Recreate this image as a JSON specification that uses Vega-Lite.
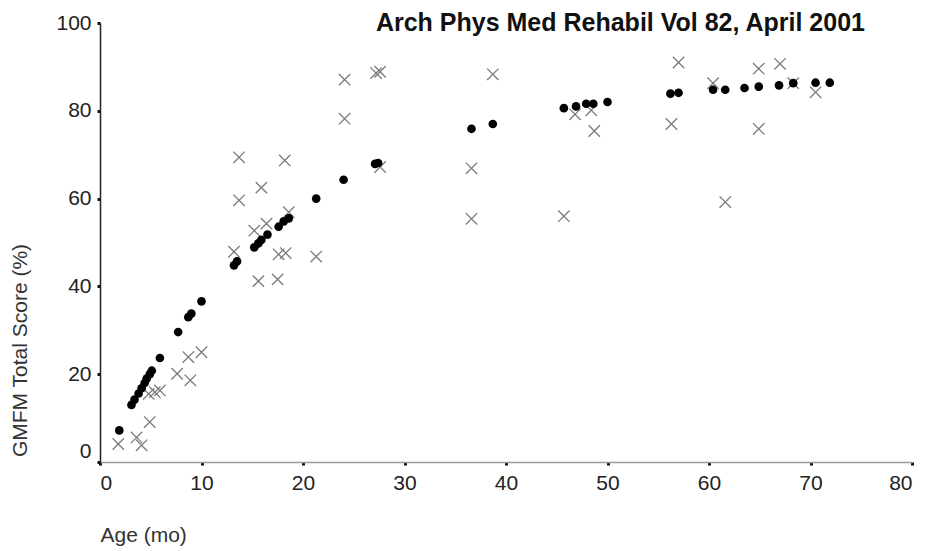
{
  "$schema": "https://vega.github.io/schema/vega-lite/v6.json",
  "width": 812,
  "height": 439,
  "autosize": {"type": "none"},
  "padding": {"left": 100, "top": 23, "right": 14, "bottom": 89},
  "background": "white",
  "config": {
    "view": {"stroke": null},
    "font": "Liberation Sans"
  },
  "title": {
    "text": "Arch Phys Med Rehabil Vol 82, April 2001",
    "anchor": "end",
    "frame": "group",
    "orient": "top",
    "baseline": "middle",
    "offset": 0,
    "dx": -47,
    "dy": 36,
    "font": "Liberation Sans",
    "fontSize": 25,
    "fontWeight": "bold",
    "color": "#111111"
  },
  "data": {
    "values": [
      {"age": 1.9, "score": 7.2, "group": "curve"},
      {"age": 3.1, "score": 13.0, "group": "curve"},
      {"age": 3.4, "score": 14.2, "group": "curve"},
      {"age": 3.8, "score": 15.6, "group": "curve"},
      {"age": 4.1, "score": 16.8, "group": "curve"},
      {"age": 4.4, "score": 18.0, "group": "curve"},
      {"age": 4.6, "score": 19.0, "group": "curve"},
      {"age": 4.9, "score": 20.0, "group": "curve"},
      {"age": 5.1, "score": 20.8, "group": "curve"},
      {"age": 5.9, "score": 23.7, "group": "curve"},
      {"age": 7.7, "score": 29.6, "group": "curve"},
      {"age": 8.7, "score": 33.0, "group": "curve"},
      {"age": 9.0, "score": 33.8, "group": "curve"},
      {"age": 10.0, "score": 36.6, "group": "curve"},
      {"age": 13.2, "score": 44.8, "group": "curve"},
      {"age": 13.5, "score": 45.7, "group": "curve"},
      {"age": 15.2, "score": 48.9, "group": "curve"},
      {"age": 15.6, "score": 49.8, "group": "curve"},
      {"age": 15.9, "score": 50.6, "group": "curve"},
      {"age": 16.5, "score": 51.8, "group": "curve"},
      {"age": 17.6, "score": 53.6, "group": "curve"},
      {"age": 18.1, "score": 54.8, "group": "curve"},
      {"age": 18.6, "score": 55.5, "group": "curve"},
      {"age": 21.3, "score": 60.0, "group": "curve"},
      {"age": 24.0, "score": 64.3, "group": "curve"},
      {"age": 27.1, "score": 67.9, "group": "curve"},
      {"age": 27.4, "score": 68.1, "group": "curve"},
      {"age": 36.6, "score": 75.9, "group": "curve"},
      {"age": 38.7, "score": 77.0, "group": "curve"},
      {"age": 45.7, "score": 80.6, "group": "curve"},
      {"age": 46.9, "score": 81.0, "group": "curve"},
      {"age": 47.9, "score": 81.6, "group": "curve"},
      {"age": 48.6, "score": 81.6, "group": "curve"},
      {"age": 50.0, "score": 82.0, "group": "curve"},
      {"age": 56.2, "score": 83.9, "group": "curve"},
      {"age": 57.0, "score": 84.1, "group": "curve"},
      {"age": 60.4, "score": 84.8, "group": "curve"},
      {"age": 61.6, "score": 84.8, "group": "curve"},
      {"age": 63.5, "score": 85.2, "group": "curve"},
      {"age": 64.9, "score": 85.5, "group": "curve"},
      {"age": 66.9, "score": 85.8, "group": "curve"},
      {"age": 68.3, "score": 86.3, "group": "curve"},
      {"age": 70.5, "score": 86.4, "group": "curve"},
      {"age": 71.9, "score": 86.4, "group": "curve"},

      {"age": 1.8, "score": 4.1, "group": "child"},
      {"age": 3.6, "score": 5.6, "group": "child"},
      {"age": 4.1, "score": 3.8, "group": "child"},
      {"age": 4.9, "score": 9.1, "group": "child"},
      {"age": 4.8, "score": 15.5, "group": "child"},
      {"age": 5.4, "score": 15.9, "group": "child"},
      {"age": 5.9, "score": 16.3, "group": "child"},
      {"age": 7.6, "score": 20.1, "group": "child"},
      {"age": 8.9, "score": 18.6, "group": "child"},
      {"age": 8.7, "score": 23.9, "group": "child"},
      {"age": 10.0, "score": 25.0, "group": "child"},
      {"age": 13.7, "score": 69.4, "group": "child"},
      {"age": 18.2, "score": 68.7, "group": "child"},
      {"age": 15.9, "score": 62.5, "group": "child"},
      {"age": 13.7, "score": 59.6, "group": "child"},
      {"age": 18.6, "score": 56.9, "group": "child"},
      {"age": 16.4, "score": 54.3, "group": "child"},
      {"age": 15.2, "score": 52.7, "group": "child"},
      {"age": 13.2, "score": 47.9, "group": "child"},
      {"age": 17.6, "score": 47.3, "group": "child"},
      {"age": 18.3, "score": 47.6, "group": "child"},
      {"age": 21.3, "score": 46.8, "group": "child"},
      {"age": 15.6, "score": 41.2, "group": "child"},
      {"age": 17.5, "score": 41.6, "group": "child"},
      {"age": 24.1, "score": 87.1, "group": "child"},
      {"age": 27.2, "score": 88.6, "group": "child"},
      {"age": 27.6, "score": 88.9, "group": "child"},
      {"age": 24.1, "score": 78.2, "group": "child"},
      {"age": 38.7, "score": 88.3, "group": "child"},
      {"age": 27.6, "score": 67.2, "group": "child"},
      {"age": 36.6, "score": 66.9, "group": "child"},
      {"age": 36.6, "score": 55.4, "group": "child"},
      {"age": 45.7, "score": 56.0, "group": "child"},
      {"age": 46.8, "score": 79.2, "group": "child"},
      {"age": 48.7, "score": 75.4, "group": "child"},
      {"age": 48.4, "score": 80.1, "group": "child"},
      {"age": 56.3, "score": 77.0, "group": "child"},
      {"age": 61.6, "score": 59.2, "group": "child"},
      {"age": 64.9, "score": 75.9, "group": "child"},
      {"age": 60.4, "score": 86.3, "group": "child"},
      {"age": 64.9, "score": 89.6, "group": "child"},
      {"age": 67.0, "score": 90.7, "group": "child"},
      {"age": 57.0, "score": 91.0, "group": "child"},
      {"age": 68.3, "score": 86.3, "group": "child"},
      {"age": 70.5, "score": 84.2, "group": "child"}
    ]
  },
  "encoding": {
    "x": {
      "field": "age",
      "type": "quantitative",
      "scale": {"domain": [0, 80], "nice": false, "zero": false},
      "axis": {
        "values": [0, 10, 20, 30, 40, 50, 60, 70, 80],
        "grid": false,
        "title": "Age (mo)",
        "titleX": 0,
        "titleY": 73,
        "titleAlign": "left",
        "titleBaseline": "middle",
        "titleFont": "Liberation Sans",
        "titleFontSize": 21,
        "titleFontWeight": "normal",
        "titleColor": "#333333",
        "domainColor": "#9a9a9a",
        "domainWidth": 1.5,
        "tickColor": "#111111",
        "tickSize": 3,
        "tickWidth": 3,
        "labelFont": "Liberation Sans",
        "labelFontSize": 21,
        "labelColor": "#222222",
        "labelPadding": 7
      }
    },
    "y": {
      "field": "score",
      "type": "quantitative",
      "scale": {"domain": [0, 100], "nice": false, "zero": false},
      "axis": {
        "values": [0, 20, 40, 60, 80, 100],
        "grid": false,
        "title": "GMFM Total Score (%)",
        "titleX": -80,
        "titleY": 327,
        "titleAngle": -90,
        "titleAlign": "center",
        "titleBaseline": "middle",
        "titleFont": "Liberation Sans",
        "titleFontSize": 21,
        "titleFontWeight": "normal",
        "titleColor": "#333333",
        "domainColor": "#222222",
        "domainWidth": 1.5,
        "tickColor": "#111111",
        "tickSize": 3,
        "tickWidth": 3,
        "labelFont": "Liberation Sans",
        "labelFontSize": 21,
        "labelColor": "#222222",
        "labelPadding": 6,
        "labelOffset": {"condition": {"test": "datum.value === 0", "value": -11}, "value": 0}
      }
    }
  },
  "layer": [
    {
      "transform": [{"filter": "datum.group === 'child'"}],
      "mark": {
        "type": "point",
        "shape": "M-1,-1L1,1M-1,1L1,-1",
        "filled": false,
        "stroke": "#7a7a7a",
        "strokeWidth": 1.3,
        "size": 130,
        "opacity": 1
      }
    },
    {
      "transform": [{"filter": "datum.group === 'curve'"}],
      "mark": {
        "type": "circle",
        "color": "#000000",
        "size": 75,
        "opacity": 1
      }
    }
  ]
}
